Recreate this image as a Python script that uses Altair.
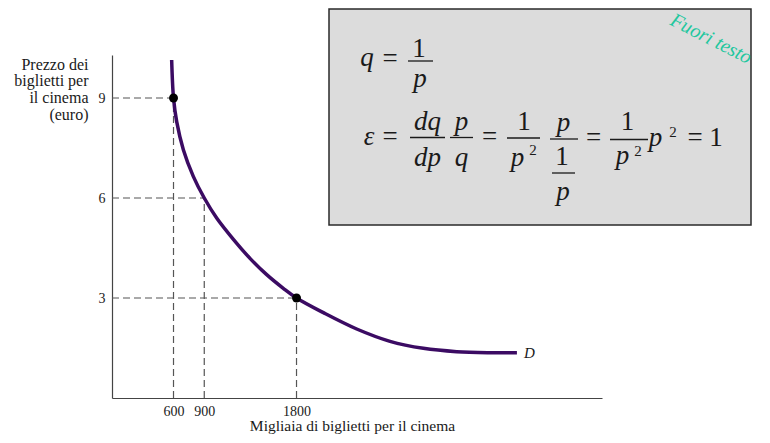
import altair as alt
import pandas as pd

# ---------------- data ----------------
curve_q = [582, 600, 631, 696, 793, 900, 1021, 1184, 1346, 1509, 1671, 1800,
           2062, 2387, 2712, 3037, 3363, 3688, 3950]
curve_p = [10.14, 9, 8.29, 7.45, 6.65, 6, 5.40, 4.76, 4.19, 3.70, 3.29, 3,
           2.56, 2.07, 1.70, 1.49, 1.39, 1.36, 1.36]
point_q = [600, 1800]
point_p = [9, 3]
ref_q = [600, 900, 1800]
ref_p = [9, 6, 3]
x_ticks = [600, 900, 1800]
y_ticks = [3, 6, 9]
x_max = 4780
y_max = 10.29

y_title = ["Prezzo dei", "biglietti per", "il cinema", "(euro)"]
x_title = "Migliaia di biglietti per il cinema"
curve_label = "D"
stamp = "Fuori testo"

# formula glyphs: text, italic?, superscript?
formula_text = ["q", "=", "1", "p",
                "ε", "=", "dq", "dp", "p", "q", "=", "1", "p", "2",
                "p", "1", "p", "=", "1", "p", "2", "p", "2", "=", "1"]
formula_italic = [True, False, False, True,
                  True, False, True, True, True, True, False, False, True, False,
                  True, False, True, False, False, True, False, True, False, False, False]
formula_small = [False, False, False, False,
                 False, False, False, False, False, False, False, False, False, True,
                 False, False, False, False, False, False, True, False, True, False, False]

# ---------------- layout (pixels, page coordinates) ----------------
ORX, ORY = 112, 55          # plot origin on the page
W, H = 490, 343
formula_x = [367, 390, 419, 420,
             369, 390, 427.5, 427.5, 461.5, 461.5, 489.5, 524, 517.5, 533,
             563.5, 562, 563, 593.5, 627.5, 622.5, 638, 655.5, 673, 695, 716]
formula_y = [66, 67, 57, 87,
             145, 145, 130, 166, 130, 166, 145, 130, 166, 155,
             131, 165, 200, 146, 130, 164, 156, 146, 137, 146, 146]
bars_x1 = [408, 410, 450, 507, 550, 552, 610]
bars_x2 = [433, 445, 473, 540, 578, 575, 648]
bars_y = [61, 137.5, 137.5, 138, 139, 173, 139.5]

fdf = pd.DataFrame({
    "t": formula_text,
    "x": [v - ORX for v in formula_x],
    "y": [v - ORY for v in formula_y],
    "s": [15 if sm else 27 for sm in formula_small],
    "it": formula_italic,
})
bdf = pd.DataFrame({
    "x1": [v - ORX for v in bars_x1],
    "x2": [v - ORX for v in bars_x2],
    "y": [v - ORY for v in bars_y],
})

SERIF = "Liberation Serif"
INK = "#1a1a1a"

xs = alt.Scale(domain=[0, x_max], nice=False, zero=True)
ys = alt.Scale(domain=[0, y_max], nice=False, zero=True)

x_axis = alt.Axis(title=x_title, values=x_ticks, format="d", grid=False, ticks=False, tickSize=0,
                  labelPadding=6, labelFont=SERIF, labelFontSize=14, labelColor=INK,
                  domainColor="#444", domainWidth=1.2,
                  titleFont=SERIF, titleFontSize=15.5, titleFontWeight="normal", titleColor=INK,
                  titleX=240, titleY=32.5, titleBaseline="alphabetic", titleAlign="center")
y_axis = alt.Axis(title=y_title, values=y_ticks, format="d", grid=False, ticks=False, tickSize=0,
                  labelPadding=7, labelFont=SERIF, labelFontSize=14, labelColor=INK,
                  domainColor="#444", domainWidth=1.2,
                  titleFont=SERIF, titleFontSize=16, titleFontWeight="normal", titleColor=INK,
                  titleAngle=0, titleAlign="right", titleBaseline="alphabetic",
                  titleX=-24, titleY=14, titleLineHeight=16.7)

curve_df = pd.DataFrame({"q": curve_q, "p": curve_p})
pts_df = pd.DataFrame({"q": point_q, "p": point_p})
ref_df = pd.DataFrame({"q": ref_q, "p": ref_p, "zero": [0] * len(ref_q)})
lab_df = pd.DataFrame({"q": [curve_q[-1]], "p": [curve_p[-1]], "t": [curve_label]})

box = alt.Chart(pd.DataFrame({"a": [0]})).mark_rect(
    fill="#dcdcdc", stroke="#2a2a2a", strokeWidth=1.5
).encode(x=alt.value(329 - ORX), x2=alt.value(751 - ORX),
         y=alt.value(9 - ORY), y2=alt.value(225 - ORY))

bars = alt.Chart(bdf).mark_rule(color=INK, strokeWidth=1.3).encode(
    x=alt.X("x1:Q", scale=None), x2="x2:Q", y=alt.Y("y:Q", scale=None))

def ftext(italic):
    return alt.Chart(fdf).transform_filter(
        alt.datum.it == italic
    ).mark_text(align="center", baseline="alphabetic", font=SERIF,
                fontStyle="italic" if italic else "normal", color=INK).encode(
        x=alt.X("x:Q", scale=None), y=alt.Y("y:Q", scale=None),
        size=alt.Size("s:Q", scale=None, legend=None), text="t:N")

stamp_layer = alt.Chart(pd.DataFrame({"t": [stamp]})).mark_text(
    angle=27, font=SERIF, fontStyle="italic", fontSize=20, color="#22c79e",
    align="center", baseline="middle"
).encode(x=alt.value(711 - ORX), y=alt.value(39 - ORY), text="t:N")

dash = dict(strokeDash=[7, 4], color="#555", strokeWidth=1.2)
h_rules = alt.Chart(ref_df).mark_rule(**dash).encode(
    x=alt.X("zero:Q", scale=xs, axis=x_axis), x2="q:Q",
    y=alt.Y("p:Q", scale=ys, axis=y_axis))
v_rules = alt.Chart(ref_df).mark_rule(**dash).encode(
    x=alt.X("q:Q", scale=xs, axis=x_axis),
    y=alt.Y("zero:Q", scale=ys, axis=y_axis), y2="p:Q")

curve = alt.Chart(curve_df).mark_line(
    interpolate="catmull-rom", color="#3b0b63", strokeWidth=3.5
).encode(x=alt.X("q:Q", scale=xs, axis=x_axis), y=alt.Y("p:Q", scale=ys, axis=y_axis))

points = alt.Chart(pts_df).mark_circle(size=80, color="black", opacity=1).encode(
    x=alt.X("q:Q", scale=xs, axis=x_axis), y=alt.Y("p:Q", scale=ys, axis=y_axis))

dlabel = alt.Chart(lab_df).mark_text(
    align="left", baseline="middle", dx=7, font=SERIF, fontStyle="italic",
    fontSize=15, color=INK
).encode(x=alt.X("q:Q", scale=xs, axis=x_axis), y=alt.Y("p:Q", scale=ys, axis=y_axis), text="t:N")

chart = alt.layer(
    h_rules, v_rules, curve, points, dlabel,
    box, bars, ftext(True), ftext(False), stamp_layer
).properties(
    width=W, height=H,
    autosize=alt.AutoSizeParams(type="none"),
    padding={"left": ORX - 8, "top": ORY - 8, "right": 754 - (ORX - 8) - W, "bottom": 427 - (ORY - 8) - H},
    background="white",
).configure_view(stroke=None)

chart.save("out.html", embed_options={"renderer": "svg", "actions": False})
